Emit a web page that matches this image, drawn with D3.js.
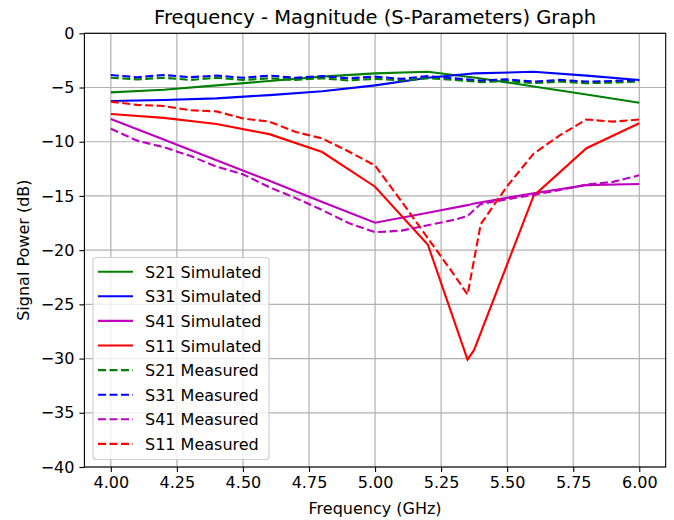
<!DOCTYPE html>
<html>
<head>
<meta charset="utf-8">
<script src="https://cdn.jsdelivr.net/npm/d3@7"></script>
<style>
  body { margin: 0; background: #fff; }
  text { font-family: "DejaVu Sans", sans-serif; fill: #000; }
</style>
</head>
<body>
<div id="chart"></div>
<script>
// simulated data (GHz / dB)
var freqSim = [4.0, 4.2, 4.4, 4.6, 4.8, 5.0, 5.2, 5.35, 5.375, 5.6, 5.8, 6.0];
var s21Sim = [-5.45, -5.2, -4.8, -4.4, -4.0, -3.7, -3.55, -4.0, -4.07, -4.9, -5.65, -6.4];
var s31Sim = [-6.25, -6.15, -6.0, -5.7, -5.35, -4.8, -4.1, -3.75, -3.7, -3.55, -3.9, -4.3];
var s41Sim = [-7.9, -9.8, -11.7, -13.6, -15.55, -17.47, -16.55, -15.85, -15.7, -14.75, -14.0, -13.9];
var s11Sim = [-7.45, -7.8, -8.37, -9.3, -10.95, -14.15, -19.5, -30.1, -29.2, -15.0, -10.6, -8.3];

// measured data
var freqMeas = [4.0, 4.1, 4.2, 4.3, 4.4, 4.5, 4.6, 4.7, 4.8, 4.9, 5.0, 5.1, 5.2, 5.3, 5.35, 5.4, 5.5, 5.6, 5.7, 5.8, 5.9, 6.0];
var s21Meas = [-4.1, -4.25, -4.1, -4.3, -4.1, -4.3, -4.15, -4.3, -4.15, -4.35, -4.2, -4.35, -4.15, -4.3, -4.4, -4.5, -4.4, -4.6, -4.45, -4.6, -4.55, -4.45];
var s31Meas = [-3.85, -4.05, -3.85, -4.05, -3.9, -4.1, -3.9, -4.1, -3.95, -4.15, -4.0, -4.2, -3.95, -4.15, -4.25, -4.35, -4.25, -4.45, -4.3, -4.45, -4.4, -4.3];
var s41Meas = [-8.8, -9.9, -10.5, -11.3, -12.3, -13.0, -14.2, -15.2, -16.3, -17.5, -18.35, -18.2, -17.7, -17.2, -16.85, -15.75, -15.3, -14.9, -14.45, -13.95, -13.7, -13.1];
var s11Meas = [-6.3, -6.6, -6.7, -7.1, -7.2, -7.85, -8.15, -9.1, -9.7, -10.9, -12.2, -15.5, -18.9, -22.3, -24.1, -17.6, -14.1, -11.1, -9.4, -7.95, -8.15, -7.95];

var xTicks = [4.0, 4.25, 4.5, 4.75, 5.0, 5.25, 5.5, 5.75, 6.0];
var yTicks = [0, -5, -10, -15, -20, -25, -30, -35, -40];

var series = [
    {name: "S21 Simulated", x: freqSim, y: s21Sim, color: "#008000", dash: false},
    {name: "S31 Simulated", x: freqSim, y: s31Sim, color: "#0000ff", dash: false},
    {name: "S41 Simulated", x: freqSim, y: s41Sim, color: "#bf00bf", dash: false},
    {name: "S11 Simulated", x: freqSim, y: s11Sim, color: "#ff0000", dash: false},
    {name: "S21 Measured", x: freqMeas, y: s21Meas, color: "#008000", dash: true},
    {name: "S31 Measured", x: freqMeas, y: s31Meas, color: "#0000ff", dash: true},
    {name: "S41 Measured", x: freqMeas, y: s41Meas, color: "#bf00bf", dash: true},
    {name: "S11 Measured", x: freqMeas, y: s11Meas, color: "#ff0000", dash: true}
];

var w = 674, h = 520;
// plot box (named so they don't clash with window.top)
var pL = 84.4, pR = 665.7, pT = 33.3, pB = 467;

var svg = d3.select("#chart").append("svg")
    .attr("width", w)
    .attr("height", h);

var xScale = d3.scaleLinear().domain([3.9, 6.1]).range([pL, pR]);
var yScale = d3.scaleLinear().domain([-40, 0]).range([pB, pT]);

//grid
svg.append("g").selectAll("line").data(xTicks).enter().append("line")
    .attr("x1", function(d) { return xScale(d); })
    .attr("x2", function(d) { return xScale(d); })
    .attr("y1", pT).attr("y2", pB)
    .attr("stroke", "#b0b0b0").attr("stroke-width", 1.2);
svg.append("g").selectAll("line").data(yTicks).enter().append("line")
    .attr("y1", function(d) { return yScale(d); })
    .attr("y2", function(d) { return yScale(d); })
    .attr("x1", pL).attr("x2", pR)
    .attr("stroke", "#b0b0b0").attr("stroke-width", 1.2);

//lines
svg.append("clipPath").attr("id", "clip").append("rect")
    .attr("x", pL).attr("y", pT).attr("width", pR - pL).attr("height", pB - pT);

var line = d3.line();
series.forEach(function(s) {
    var pts = s.x.map(function(f, i) { return [xScale(f), yScale(s.y[i])]; });
    svg.append("path")
        .attr("d", line(pts))
        .attr("fill", "none")
        .attr("stroke", s.color)
        .attr("stroke-width", 2.1)
        .attr("stroke-dasharray", s.dash ? "8,3.5" : null)
        .attr("clip-path", "url(#clip)");
});

//axes
var xAxis = d3.axisBottom(xScale).tickValues(xTicks).tickFormat(d3.format(".2f")).tickSize(5).tickPadding(5);
var yAxis = d3.axisLeft(yScale).tickValues(yTicks).tickFormat(function(d) { return d < 0 ? "\u2212" + Math.abs(d) : d; }).tickSize(5).tickPadding(5);

var gx = svg.append("g").attr("transform", "translate(0," + pB + ")").call(xAxis);
var gy = svg.append("g").attr("transform", "translate(" + pL + ",0)").call(yAxis);
[gx, gy].forEach(function(g) {
    g.select(".domain").remove();
    g.selectAll(".tick line").attr("stroke", "#000").attr("stroke-width", 1.1);
    g.selectAll("text").style("font-size", "16px").style("font-family", "DejaVu Sans");
});

//frame
svg.append("rect")
    .attr("x", pL).attr("y", pT)
    .attr("width", pR - pL).attr("height", pB - pT)
    .attr("fill", "none").attr("stroke", "#000").attr("stroke-width", 1.1);

//labels
svg.append("text")
    .attr("x", (pL + pR) / 2).attr("y", 24)
    .attr("text-anchor", "middle")
    .style("font-size", "19.5px")
    .text("Frequency - Magnitude (S-Parameters) Graph");
svg.append("text")
    .attr("x", (pL + pR) / 2).attr("y", 514)
    .attr("text-anchor", "middle")
    .style("font-size", "16px")
    .text("Frequency (GHz)");
svg.append("text")
    .attr("transform", "translate(29," + ((pT + pB) / 2) + ") rotate(-90)")
    .attr("text-anchor", "middle")
    .style("font-size", "16px")
    .text("Signal Power (dB)");

//legend
var lg = svg.append("g");
lg.append("rect")
    .attr("x", 93).attr("y", 257.5)
    .attr("width", 176).attr("height", 202)
    .attr("rx", 3)
    .attr("fill", "#fff").attr("fill-opacity", 0.8)
    .attr("stroke", "#cccccc").attr("stroke-width", 1.1);
series.forEach(function(s, i) {
    var y = 271.7 + i * 24.6;
    lg.append("line")
        .attr("x1", 98).attr("x2", 133)
        .attr("y1", y).attr("y2", y)
        .attr("stroke", s.color).attr("stroke-width", 2.1)
        .attr("stroke-dasharray", s.dash ? "8,3.5" : null);
    lg.append("text")
        .attr("x", 145).attr("y", y + 6)
        .style("font-size", "16px")
        .text(s.name);
});
</script>
</body>
</html>
